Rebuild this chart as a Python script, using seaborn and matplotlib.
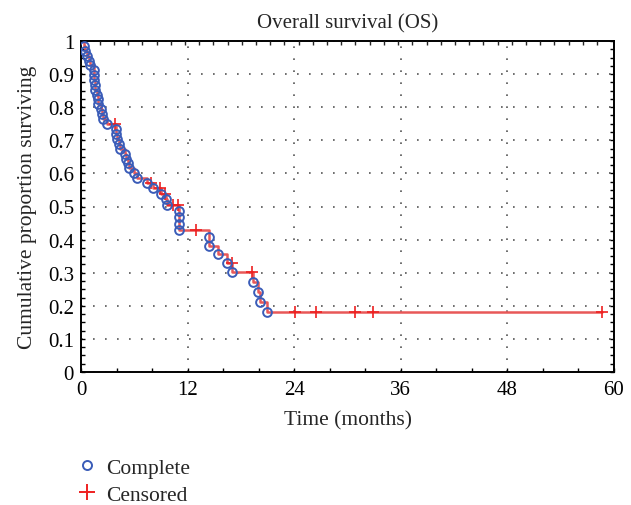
import numpy as np
import pandas as pd
import matplotlib
matplotlib.use("Agg")
import matplotlib.pyplot as plt
from matplotlib.lines import Line2D
import seaborn as sns

# ---- data ----
event_times = [0.37, 0.46, 0.68, 0.85, 0.96, 1.46, 1.50, 1.50, 1.55, 1.60, 1.83, 1.90, 1.92,
               2.24, 2.33, 2.47, 2.97,
               3.97, 3.97, 4.02, 4.30, 4.43, 4.90, 5.04, 5.34, 5.43, 5.94, 6.35,
               7.44, 8.05, 9.05, 9.60, 9.65,
               11.05, 11.05, 11.05, 11.05,
               14.45, 14.45, 15.45, 16.45, 17.05,
               19.40, 19.95, 20.20, 20.95]
event_surv = [0.985, 0.971, 0.956, 0.941, 0.926, 0.912, 0.897, 0.882, 0.868, 0.853, 0.838, 0.824, 0.809,
              0.794, 0.779, 0.765, 0.750,
              0.735, 0.720, 0.705, 0.690, 0.675, 0.660, 0.645, 0.630, 0.615, 0.600, 0.585,
              0.570, 0.555, 0.539, 0.522, 0.505,
              0.486, 0.467, 0.448, 0.430,
              0.407, 0.380, 0.355, 0.328, 0.303,
              0.273, 0.243, 0.212, 0.182]
cens_times = [3.88, 7.90, 8.90, 9.50, 10.35, 10.95, 12.97, 17.00, 19.30,
              24.06, 26.40, 30.90, 32.90, 58.70]
cens_surv = [0.750, 0.570, 0.555, 0.539, 0.505, 0.505, 0.430, 0.328, 0.303,
             0.182, 0.182, 0.182, 0.182, 0.182]

x_ticks = [0, 12, 24, 36, 48, 60]
y_ticks = [0, 0.1, 0.2, 0.3, 0.4, 0.5, 0.6, 0.7, 0.8, 0.9, 1.0]
y_tick_labels = ["0", "0.1", "0.2", "0.3", "0.4", "0.5", "0.6", "0.7", "0.8", "0.9", "1"]

title = "Overall survival (OS)"
x_label = "Time (months)"
y_label = "Cumulative proportion surviving"
legend_labels = ["Complete", "Censored"]

# ---- build step curve table ----
steps = pd.DataFrame({
    "t": [0.0] + event_times + cens_times,
    "s": [1.0] + event_surv + cens_surv,
})
steps = steps.sort_values(by=["s", "t"], ascending=[False, True]).reset_index(drop=True)
events = pd.DataFrame({"t": event_times, "s": event_surv})
cens = pd.DataFrame({"t": cens_times, "s": cens_surv})

sns.set_theme(style="white")
plt.rcParams["font.family"] = ["Liberation Serif", "DejaVu Serif"]

line_red = "#e85858"
cross_red = "#ee2020"
blue = "#3a5cb8"

fig = plt.figure(figsize=(6.31, 5.06), dpi=100)
ax = fig.add_axes([81 / 631, 1 - 373 / 506, 533 / 631, 331 / 506])

sns.lineplot(data=steps, x="t", y="s", ax=ax, estimator=None, sort=False,
             drawstyle="steps-post", color=line_red, linewidth=1.8, zorder=2)
sns.lineplot(data=cens, x="t", y="s", ax=ax, estimator=None, sort=False,
             marker="+", linestyle="", color=cross_red, markersize=8.5,
             markeredgewidth=1.2, markeredgecolor=cross_red, zorder=3)
sns.lineplot(data=events, x="t", y="s", ax=ax, estimator=None, sort=False,
             marker="o", linestyle="", markersize=6.3, markerfacecolor="none",
             markeredgecolor=blue, markeredgewidth=1.4, color=blue, zorder=4)

ax.set_xlim(0, 60)
ax.set_ylim(0, 1)
ax.set_xticks(x_ticks)
ax.set_xticks(np.arange(0, 61, 4), minor=True)
ax.set_yticks(y_ticks)
ax.set_yticklabels(y_tick_labels)
ax.set_yticks(np.arange(0, 1.0001, 0.025), minor=True)

ax.grid(True, which="major", color="#555555", linestyle=(0, (1, 6.2)), linewidth=1.2)
ax.set_axisbelow(True)

for sp in ax.spines.values():
    sp.set_color("black")
    sp.set_linewidth(1.4)

ax.tick_params(axis="both", which="both", direction="in", length=3, width=1,
               colors="black", labelsize=15)
ax.tick_params(axis="y", which="both", right=True, left=True)
ax.tick_params(axis="x", which="both", top=False, bottom=True, pad=6)
ax.tick_params(axis="y", which="both", pad=5)

ax2 = ax.twiny()
ax2.set_xlim(0, 60)
ax2.set_xticks(np.arange(2.1, 59, 1.6))
ax2.tick_params(axis="x", direction="in", length=3, width=1, labeltop=False, top=True)
ax2.grid(False)
for sp in ax2.spines.values():
    sp.set_visible(False)

ax.set_title(title, fontsize=15, pad=10)
ax.set_xlabel(x_label, fontsize=15.5, labelpad=8)
ax.set_ylabel(y_label, fontsize=15.5, labelpad=8)

handles = [
    Line2D([], [], marker="o", linestyle="", markersize=6.5, markerfacecolor="none",
           markeredgecolor=blue, markeredgewidth=1.4),
    Line2D([], [], marker="+", linestyle="", markersize=11, markeredgecolor=cross_red,
           markeredgewidth=1.4),
]
fig.legend(handles, legend_labels, loc="center left", bbox_to_anchor=(0.106, 0.047),
           frameon=False, fontsize=15.5, handlelength=0.9, handletextpad=0.4,
           labelspacing=0.3, borderpad=0)

fig.savefig("out.png", dpi=100)
